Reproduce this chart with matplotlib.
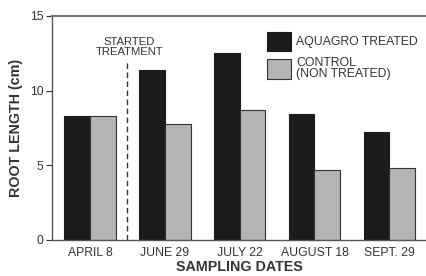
import matplotlib
matplotlib.use("Agg")
import matplotlib.pyplot as plt
import numpy as np

dates = ["APRIL 8", "JUNE 29", "JULY 22", "AUGUST 18", "SEPT. 29"]
treated = [8.3, 11.4, 12.5, 8.45, 7.2]
control = [8.3, 7.8, 8.7, 4.7, 4.85]
yticks = [0, 5, 10, 15]

plt.rcParams['font.family'] = ['Liberation Sans', 'DejaVu Sans']

fig = plt.figure(figsize=(4.26, 2.76), dpi=100)
ax = fig.add_axes([52/426, 36/276, 1 - 52/426, 224/276])

x = np.arange(len(dates))
w = 0.345
ax.bar(x - w/2, treated, width=w, color="#1c1c1c", edgecolor="#1c1c1c", linewidth=0.8,
       label="AQUAGRO TREATED")
ax.bar(x + w/2, control, width=w, color="#b4b4b4", edgecolor="#333333", linewidth=0.8,
       label="CONTROL\n(NON TREATED)")

ax.set_xlim(-0.507, 4.49)
ax.set_ylim(0, 15)
ax.set_yticks(yticks)
ax.set_xticks(x)
ax.set_xticklabels(dates, fontsize=8.8, color="#333333")
ax.tick_params(axis='y', labelsize=8.8, colors="#333333", length=4, width=0.8, pad=2)
ax.tick_params(axis='x', length=0, pad=5)

ax.spines['right'].set_visible(False)
for s in ['left', 'bottom', 'top']:
    ax.spines[s].set_color("#555555")
    ax.spines[s].set_linewidth(1.0)
ax.spines['top'].set_linewidth(1.5)
ax.spines['top'].set_color("#777777")

ax.plot([0.5, 0.5], [0, 11.9], linestyle=(0, (4, 2.5)), color="#333333", linewidth=1.0)
ax.text(0.53, 12.25, "STARTED\nTREATMENT", ha="center", va="bottom", fontsize=8.1,
        color="#333333", linespacing=0.95)

ax.set_xlabel("SAMPLING DATES", fontsize=10.3, fontweight="bold", color="#333333", labelpad=1)
ax.set_ylabel("ROOT LENGTH (cm)", fontsize=10.3, fontweight="bold", color="#333333", labelpad=5)

leg = ax.legend(loc="upper left", bbox_to_anchor=(0.575, 0.93), frameon=False, fontsize=8.8,
                handlelength=1.95, handleheight=2.1, handletextpad=0.45, labelspacing=0.45,
                borderaxespad=0, borderpad=0)
for t in leg.get_texts():
    t.set_color("#333333")
    t.set_linespacing(0.95)

fig.savefig("out.png", dpi=100)
